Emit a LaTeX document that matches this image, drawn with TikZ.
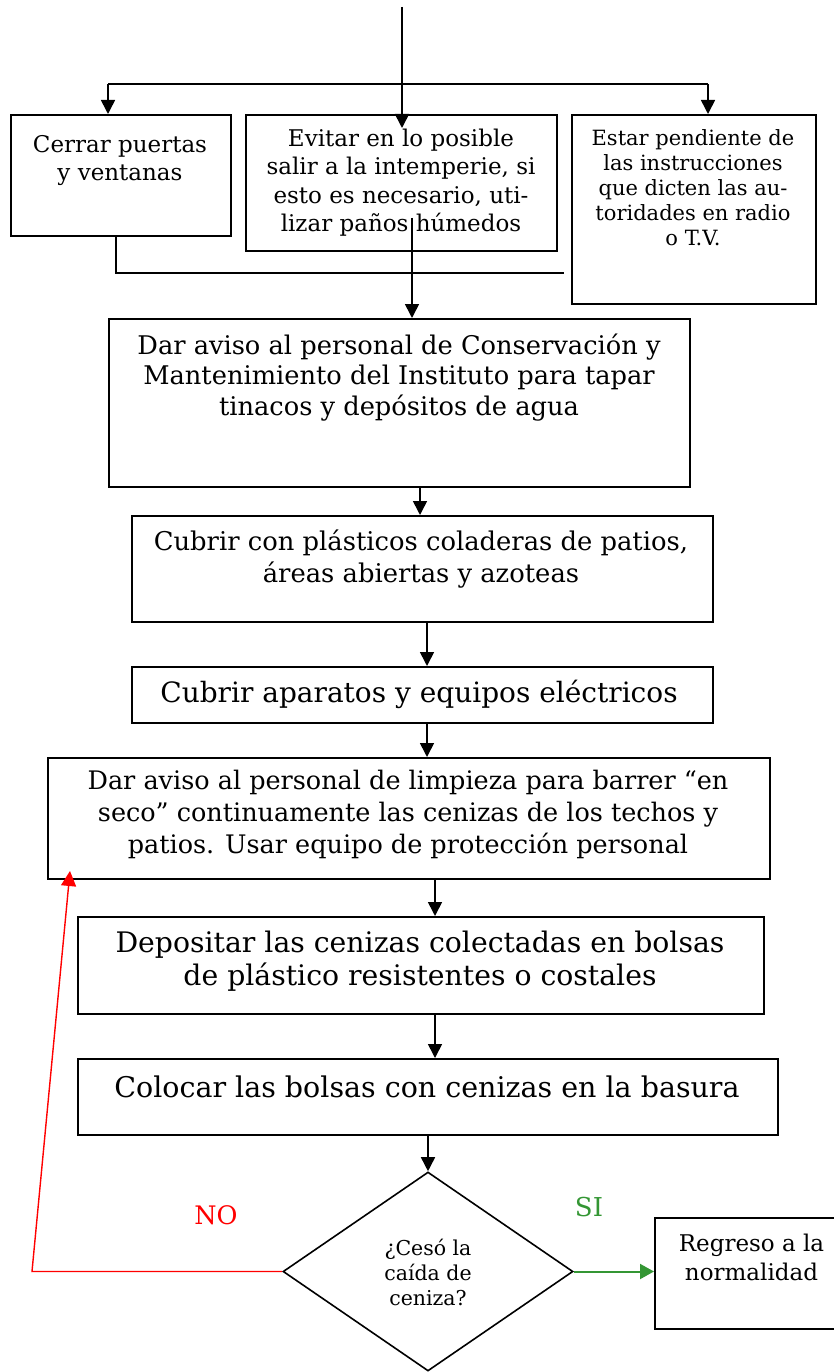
\documentclass[tikz,border=0pt]{standalone}
\usepackage{fontspec}
\setmainfont{DejaVu Serif}
\usetikzlibrary{arrows.meta,shapes.geometric,calc}
\definecolor{sigreen}{RGB}{52,150,52}
\newcommand{\fs}[2]{\fontsize{#1pt}{#2pt}\selectfont}
\tikzset{
  box/.style={draw=black,line width=1.9pt,rectangle,inner sep=0pt,anchor=north west},
  txt/.style={align=center,inner sep=0pt,anchor=center},
  conn/.style={draw=black,line width=1.6pt},
  arr/.style={conn,-{Triangle[length=14pt,width=14pt]}},
  redarr/.style={draw=red,line width=1.4pt,-{Triangle[length=15pt,width=15pt]}},
  grnarr/.style={draw=sigreen,line width=2pt,-{Triangle[length=14pt,width=15pt]}}
}
\begin{document}
\begin{tikzpicture}[x=1pt,y=-1pt]
\useasboundingbox (0,0) rectangle (833,1372);
% boxes
\node[box,minimum width=220pt,minimum height=121pt] (b1) at (10,114) {};
\node[box,minimum width=311pt,minimum height=136pt] (b2) at (245,114) {};
\node[box,minimum width=244pt,minimum height=189pt] (b3) at (571,114) {};
\node[box,minimum width=581pt,minimum height=168pt] (b4) at (108,318) {};
\node[box,minimum width=581pt,minimum height=106pt] (b5) at (131,515) {};
\node[box,minimum width=581pt,minimum height=56pt] (b6) at (131,666) {};
\node[box,minimum width=722pt,minimum height=121pt] (b7) at (47,757) {};
\node[box,minimum width=686pt,minimum height=97pt] (b8) at (77,916) {};
\node[box,minimum width=700pt,minimum height=76pt] (b9) at (77,1058) {};
\node[box,minimum width=200pt,minimum height=111pt] (b10) at (654,1217) {};
\node[draw=black,line width=1.6pt,diamond,inner sep=0pt,minimum width=290pt,minimum height=199pt] (dia) at (428,1271.5) {};
% texts
\node[txt,font=\fs{23}{28}] (t1) at (120,161) {Cerrar puertas\\y ventanas};
\node[txt,font=\fs{23}{28.5}] (t2) at (401,182.5) {Evitar en lo posible\\salir a la intemperie, si\\esto es necesario, uti-\\lizar paños húmedos};
\node[txt,font=\fs{21}{25}] (t3) at (693,188) {Estar pendiente de\\las instrucciones\\que dicten las au-\\toridades en radio\\o T.V.};
\node[txt,font=\fs{25.7}{30.5}] (t4) at (399,377.5) {Dar aviso al personal de Conservación y\\Mantenimiento del Instituto para tapar\\tinacos y depósitos de agua};
\node[txt,font=\fs{25.8}{32}] (t5) at (421,559) {Cubrir con plásticos coladeras de patios,\\áreas abiertas y azoteas};
\node[txt,font=\fs{28}{30}] (t6) at (419,694) {Cubrir aparatos y equipos eléctricos};
\node[txt,font=\fs{25.5}{31.7}] (t7) at (408,814.5) {Dar aviso al personal de limpieza para barrer “en\\seco” continuamente las cenizas de los techos y\\patios. Usar equipo de protección personal};
\node[txt,font=\fs{28.3}{33}] (t8) at (420,961.5) {Depositar las cenizas colectadas en bolsas\\de plástico resistentes o costales};
\node[txt,font=\fs{28.5}{33}] (t9) at (427,1087) {Colocar las bolsas con cenizas en la basura};
\node[txt,font=\fs{23}{29}] (t10) at (751.5,1257.5) {Regreso a la\\normalidad};
\node[txt,font=\fs{20.5}{25}] (t11) at (428,1272) {¿Cesó la\\caída de\\ceniza?};
\node[txt,font=\fs{25.5}{28},text=red] (no) at (216,1215) {NO};
\node[txt,font=\fs{26}{28},text=sigreen] (si) at (589,1207) {SI};
% coordinates
\coordinate (top) at (402,7);
\coordinate (midtip) at (402,128);
\coordinate (hl) at (108,84);
\coordinate (hr) at (708,84);
\coordinate (c1) at (116,273);
\coordinate (c2) at (564,273);
\coordinate (m1) at (412,218);
\coordinate (xa) at (420,0);
\coordinate (xb) at (427,0);
\coordinate (xc) at (435,0);
\coordinate (r1) at (32,1271.5);
\coordinate (r2) at (70,871);
% connectors
\draw[conn] (hl) -- (hr);
\draw[arr] (top) -- (midtip);
\draw[arr] (hl) -- (hl |- b1.north);
\draw[arr] (hr) -- (hr |- b3.north);
\draw[conn] (c1 |- b1.south) -- (c1) -- (c2);
\draw[arr] (m1) -- (m1 |- b4.north);
\draw[arr] (b4.south -| xa) -- (b5.north -| xa);
\draw[arr] (b5.south -| xb) -- (b6.north -| xb);
\draw[arr] (b6.south -| xb) -- (b7.north -| xb);
\draw[arr] (b7.south -| xc) -- (b8.north -| xc);
\draw[arr] (b8.south -| xc) -- (b9.north -| xc);
\draw[arr] (b9.south -| dia.north) -- (dia.north);
\draw[redarr] (dia.west) -- (r1) -- (r2);
\draw[grnarr] (dia.east) -- (dia.east -| b10.west);
\end{tikzpicture}
\end{document}
